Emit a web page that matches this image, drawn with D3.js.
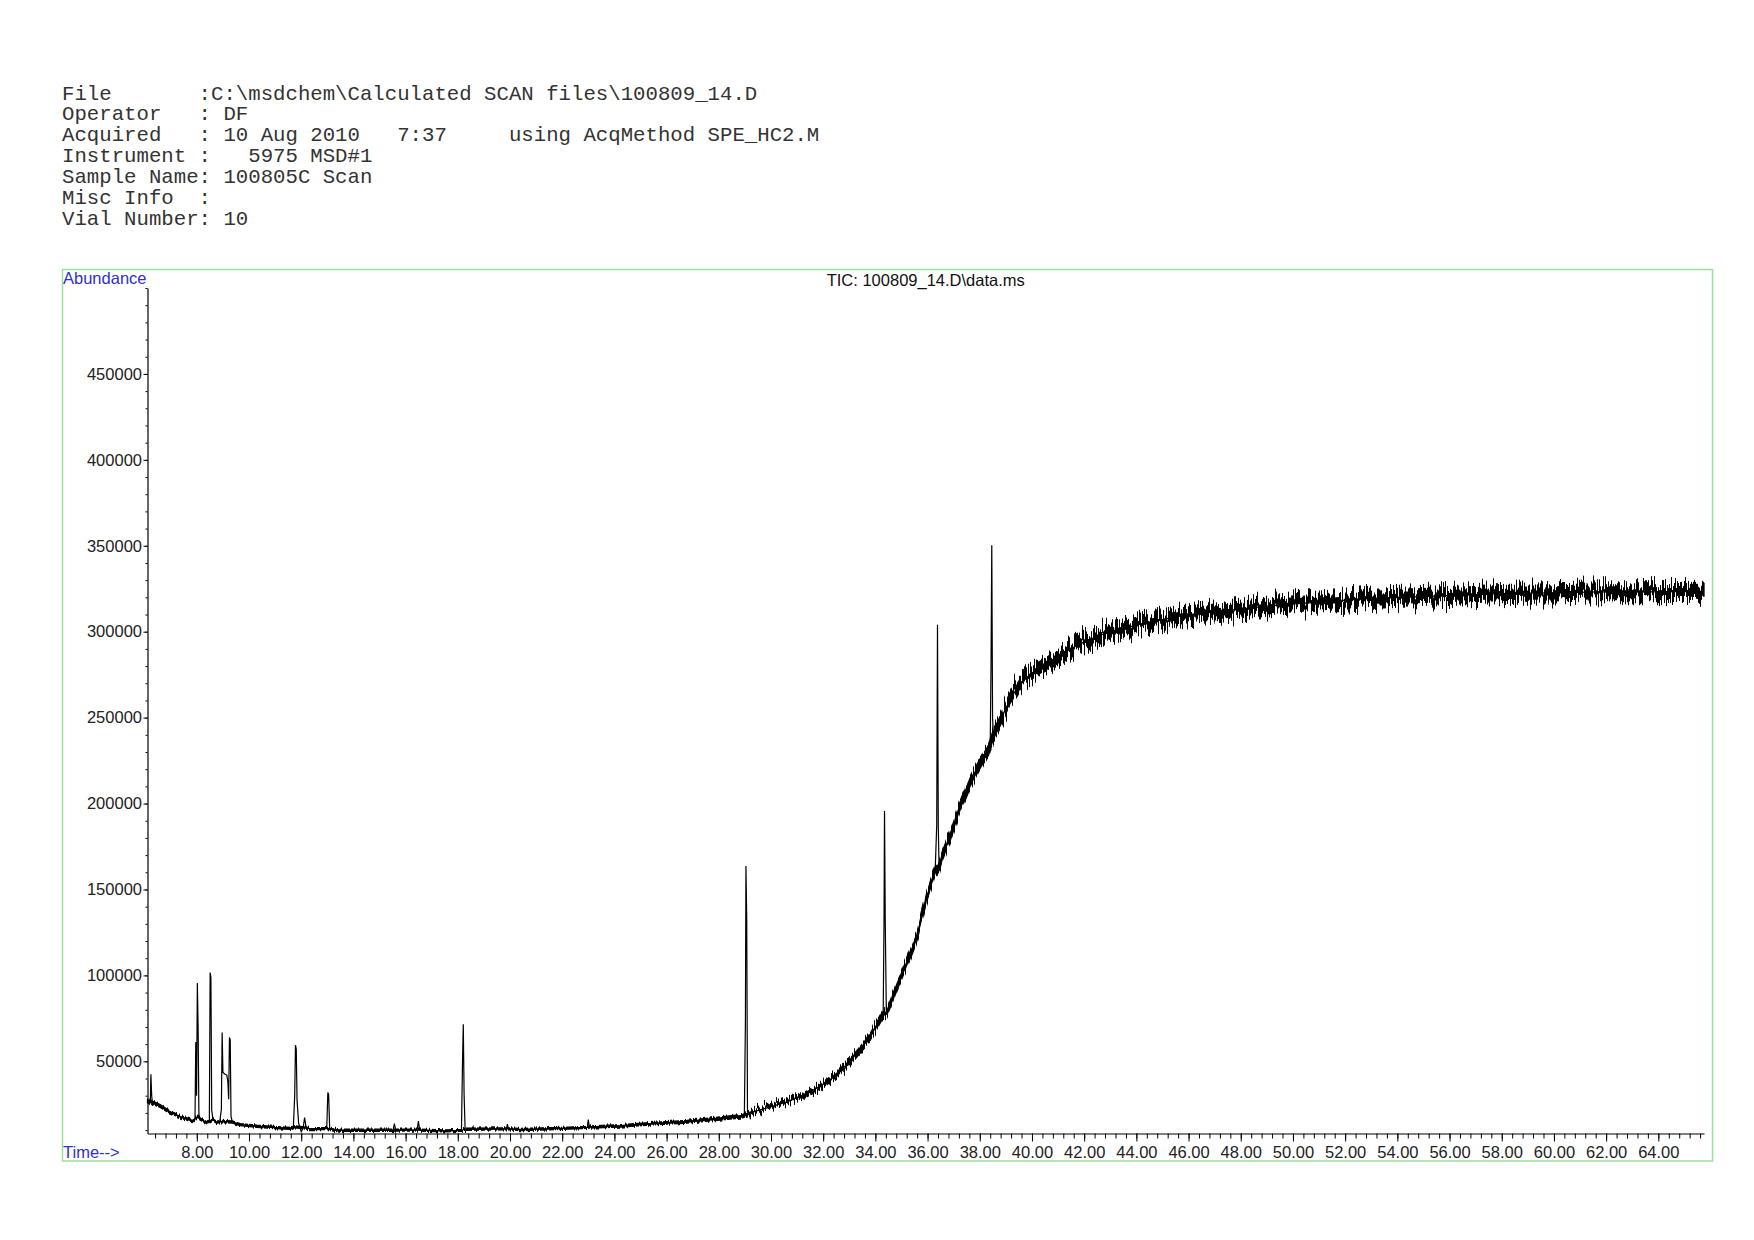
<!DOCTYPE html>
<html>
<head>
<meta charset="utf-8">
<script src="https://cdn.jsdelivr.net/npm/d3@7"></script>
<style>
  html, body { margin: 0; padding: 0; background: #fff; }
  svg { display: block; }
  text { white-space: pre; }
</style>
</head>
<body>
<svg id="chart" width="1754" height="1240"></svg>
<script>
// ---------------- DATA ----------------
const headerLines = [
  "File       :C:\\msdchem\\Calculated SCAN files\\100809_14.D",
  "Operator   : DF",
  "Acquired   : 10 Aug 2010   7:37     using AcqMethod SPE_HC2.M",
  "Instrument :   5975 MSD#1",
  "Sample Name: 100805C Scan",
  "Misc Info  :",
  "Vial Number: 10"
];
const chartTitle = "TIC: 100809_14.D\\data.ms";
const yLabel = "Abundance";
const xLabel = "Time-->";

const yTickValues = [50000, 100000, 150000, 200000, 250000, 300000, 350000, 400000, 450000];
const xTickValues = [8, 10, 12, 14, 16, 18, 20, 22, 24, 26, 28, 30, 32, 34, 36, 38, 40, 42, 44, 46, 48, 50, 52, 54, 56, 58, 60, 62, 64];
const xDomain = [6.11, 65.75];
const yDomain = [8000, 500000];

// retention time (min)
const times = [
  6.11, 6.18, 6.22, 6.24, 6.27, 6.30, 6.45, 6.60, 6.85, 7.10, 7.40, 7.75, 7.90,
  7.93, 7.96, 7.99, 8.02, 8.05, 8.08, 8.12, 8.39, 8.48, 8.51, 8.54, 8.57, 8.62,
  8.75, 8.88, 8.94, 8.97, 9.00, 9.08, 9.15, 9.19, 9.22, 9.25, 9.28, 9.31, 9.36,
  9.66, 10.30, 10.94, 11.58, 11.70, 11.75, 11.78, 11.81, 11.84, 11.90, 12.00,
  12.07, 12.13, 12.18, 12.30, 12.90, 12.98, 13.02, 13.05, 13.09, 13.50, 14.50,
  15.52, 15.57, 15.62, 16.44, 16.49, 16.54, 17.50, 18.14, 18.18, 18.21, 18.24,
  18.28, 19.86, 19.90, 19.94, 20.38, 21.20, 22.00, 22.96, 23.00, 23.04, 24.22,
  25.50, 26.78, 28.05, 28.92, 28.98, 29.02, 29.04, 29.07, 29.10, 29.20, 30.61,
  31.24, 31.88, 32.52, 33.16, 33.80, 34.25, 34.30, 34.33, 34.35, 34.38, 34.42,
  34.63, 34.82, 35.20, 35.59, 35.97, 36.29, 36.35, 36.38, 36.41, 36.44, 36.55,
  36.86, 37.24, 37.63, 38.01, 38.33, 38.40, 38.43, 38.46, 38.49, 38.52, 38.78,
  39.16, 39.54, 39.93, 40.55, 41.08, 41.84, 42.61, 43.38, 44.14, 45.85, 47.62,
  49.39, 51.16, 52.93, 54.69, 56.46, 58.23, 60.00, 61.77, 63.53, 65.75
];
// total ion current (abundance)
const tic = [
  27000, 26000, 27500, 42500, 30000, 26000, 25000, 24000, 21500, 19600, 17500, 15800, 15500,
  16000, 61300, 30000, 95600, 69100, 18000, 16500, 14200, 14500, 101700, 98800, 21600, 16000,
  14500, 15000, 22000, 66800, 43500, 42500, 42000, 38000, 28000, 63900, 62500, 18000, 14700,
  13200, 12200, 11500, 11000, 12000, 30000, 59400, 57000, 27400, 14000, 9000,
  11000, 17300, 12000, 10900, 10800, 12000, 31900, 30900, 11000, 9900, 9900,
  9900, 13800, 10000, 10000, 15200, 10000, 9500, 9800, 49300, 71600, 31300,
  10500, 10700, 13500, 10700, 10300, 10600, 11000, 11600, 16100, 11800, 12400,
  13800, 14800, 16700, 18100, 19000, 73000, 163600, 133700, 20500, 20000, 26400,
  30300, 35500, 41900, 52600, 64200, 76800, 80000, 130000, 195700, 128900, 77700,
  85600, 93300, 107000, 122400, 145700, 160000, 187400, 304000, 187000, 163000, 169000,
  181000, 197800, 212500, 222900, 231200, 234000, 279000, 350300, 250000, 239600, 248000,
  260500, 269900, 275100, 280500, 286600, 292900, 298100, 301200, 304400, 309600, 312500,
  315500, 317400, 319400, 320300, 321300, 322300, 322600, 323200, 323200, 323500
];
// half-width of the baseline noise band (null on peak scans)
const noise = [
  900, 900, 900, null, null, 900, 900, 800, 800, 700, 700, 700, 600,
  600, null, null, null, null, 600, 600, 600, 600, null, null, null, 600,
  600, 600, null, null, null, null, null, null, null, null, null, null, 600,
  600, 600, 600, 600, 600, null, null, null, null, null, null,
  null, null, null, 600, 600, null, null, null, 600, 600, 600,
  600, null, 600, 600, null, 600, 600, 600, null, null, null,
  600, 600, null, 600, 600, 600, 600, 600, null, 600, 700,
  700, 800, 900, 1000, null, null, null, null, null, 1100, 1300,
  1400, 1500, 1700, 1900, 2000, 2100, null, null, null, null, 2100,
  2100, 2200, 2300, 2400, 2500, 2600, null, null, null, 2600, 2700,
  2800, 2900, 3000, 3100, 3200, null, null, null, null, 3300, 3400,
  3500, 3600, 3700, 3800, 3900, 4000, 4000, 4000, 4000, 4000, 4000,
  4000, 4000, 4000, 4000, 4000, 4000, 4000, 4000, 4000, 4000
];

// ---------------- DRAW ----------------
const svg = d3.select("#chart");
svg.append("rect").attr("width", 1754).attr("height", 1240).attr("fill", "#fff");

// roughening filters (visual texture of detector noise on the band edges)
const defs = svg.append("defs");
function roughFilter(id, scale) {
  const f = defs.append("filter").attr("id", id)
    .attr("filterUnits", "userSpaceOnUse")
    .attr("x", 0).attr("y", 0).attr("width", 1754).attr("height", 1240);
  f.append("feTurbulence").attr("type", "fractalNoise")
    .attr("baseFrequency", "0.9 0.004").attr("numOctaves", 1).attr("seed", 3).attr("result", "turb");
  f.append("feColorMatrix").attr("in", "turb").attr("type", "matrix")
    .attr("values", "1 0 0 0 0  0 1 0 0 0  0 0 1 0 0  0 0 0 0 1").attr("result", "tmap");
  f.append("feComponentTransfer").attr("in", "tmap").attr("result", "tmap2")
    .call(ct => ct.append("feFuncG").attr("type", "linear").attr("slope", 0).attr("intercept", 0.5));
  f.append("feDisplacementMap").attr("in", "SourceGraphic").attr("in2", "tmap2")
    .attr("scale", scale).attr("xChannelSelector", "G").attr("yChannelSelector", "R");
}
roughFilter("roughS", 5);
roughFilter("roughM", 18);
roughFilter("roughL", 34);

// header block (monospace)
svg.append("g").selectAll("text").data(headerLines).join("text")
  .attr("x", 62)
  .attr("y", (d, i) => 99.5 + i * 20.95)
  .attr("font-family", "'Liberation Mono', 'Courier New', monospace")
  .attr("font-size", 20.7)
  .attr("fill", "#333")
  .text(d => d);

// green frame
svg.append("rect")
  .attr("x", 62.5).attr("y", 269.5)
  .attr("width", 1650).attr("height", 891.5)
  .attr("fill", "none").attr("stroke", "#9be09b").attr("stroke-width", 1.5);

const x = d3.scaleLinear().domain(xDomain).range([147.5, 1704]);
const y = d3.scaleLinear().domain(yDomain).range([1133.5, 288]);

const sansFont = "'Liberation Sans', Arial, sans-serif";

// y axis minor ticks
const yMinor = d3.range(1, 51).map(i => i * 10000);
svg.append("g").attr("transform", "translate(147.5,0)")
  .call(d3.axisLeft(y).tickValues(yMinor).tickSize(2).tickSizeOuter(0).tickFormat(""))
  .call(g => g.select(".domain").remove())
  .call(g => g.selectAll("line").attr("stroke", "#000"));

// y axis
svg.append("g").attr("transform", "translate(147.5,0)")
  .call(d3.axisLeft(y).tickValues(yTickValues).tickSize(4).tickSizeOuter(0).tickPadding(1.5).tickFormat(d3.format("d")))
  .call(g => g.select(".domain").attr("stroke", "#000").attr("stroke-width", 1.2))
  .call(g => g.selectAll("text").attr("font-family", sansFont).attr("font-size", 16.5).attr("fill", "#222"));

// x axis minor ticks (every 0.4 min)
const xMinor = d3.range(16, 165).map(i => +(i * 0.4).toFixed(1));
svg.append("g").attr("transform", "translate(0,1133.5)")
  .call(d3.axisBottom(x).tickValues(xMinor).tickSize(5).tickSizeOuter(0).tickFormat(""))
  .call(g => g.select(".domain").remove())
  .call(g => g.selectAll("line").attr("stroke", "#000"));

// x axis
svg.append("g").attr("transform", "translate(0,1133.5)")
  .call(d3.axisBottom(x).tickValues(xTickValues).tickSize(8).tickSizeOuter(0).tickPadding(5).tickFormat(d3.format(".2f")))
  .call(g => g.select(".domain").attr("stroke", "#000").attr("stroke-width", 1.2))
  .call(g => g.selectAll("text").attr("font-family", sansFont).attr("font-size", 16.5).attr("fill", "#222"));

// labels
svg.append("text").attr("x", 63).attr("y", 284)
  .attr("font-family", sansFont).attr("font-size", 16.5).attr("fill", "#2f2fd0").text(yLabel);
svg.append("text").attr("x", 63).attr("y", 1158)
  .attr("font-family", sansFont).attr("font-size", 16.5).attr("fill", "#2f2fd0").text(xLabel);
svg.append("text").attr("x", (x.range()[0] + x.range()[1]) / 2).attr("y", 285.5)
  .attr("text-anchor", "middle")
  .attr("font-family", sansFont).attr("font-size", 16.5).attr("fill", "#111").text(chartTitle);

// trace data
const pts = times.map((t, i) => ({ t, v: tic[i], n: noise[i] }));
const bandPts = pts.filter(p => p.n !== null);
const band = d3.area().x(p => x(p.t)).y0(p => y(p.v - p.n)).y1(p => y(p.v + p.n));

// noise band, in three stretches with growing roughness
const stretches = [
  { lo: 6.0, hi: 29.2, f: "roughS" },
  { lo: 29.2, hi: 38.78, f: "roughM" },
  { lo: 38.52, hi: 66, f: "roughL" }
];
stretches.forEach(s => {
  svg.append("path")
    .datum(bandPts.filter(p => p.t >= s.lo && p.t <= s.hi))
    .attr("d", band)
    .attr("fill", "#000").attr("stroke", "#000").attr("stroke-width", 1.3)
    .attr("filter", `url(#${s.f})`);
});

// trace line
svg.append("path")
  .datum(pts)
  .attr("d", d3.line().x(p => x(p.t)).y(p => y(p.v)))
  .attr("fill", "none").attr("stroke", "#000").attr("stroke-width", 1.2)
  .attr("stroke-linejoin", "miter");
</script>
</body>
</html>
